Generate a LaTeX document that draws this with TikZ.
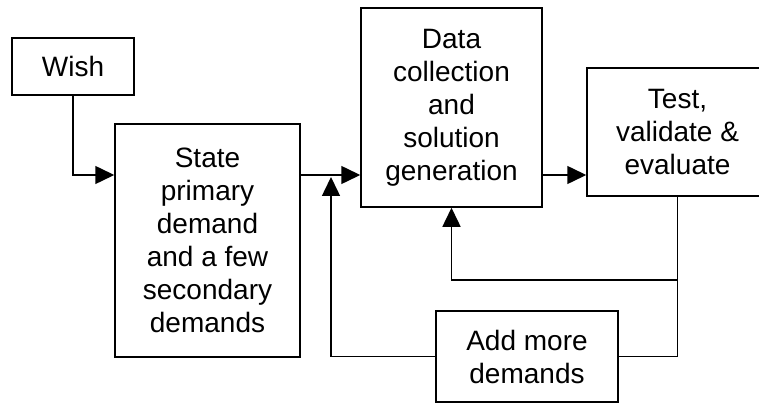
\documentclass[tikz,border=0pt]{standalone}
\usepackage{fontspec}
\setmainfont{Liberation Sans}
\usepackage{tikz}
\usetikzlibrary{arrows.meta,positioning}

\begin{document}
\begin{tikzpicture}[x=1pt,y=-1pt,line width=1.5pt,>={Triangle[length=19pt,width=18pt]},
                    main node/.style={rectangle,draw,align=center,inner sep=0pt,
                    font=\fontsize{28}{33}\selectfont}]

  \clip (0,0) rectangle (759,403);

  \node[main node,minimum width=122pt,minimum height=57pt] (wish) at (73,66.5) {Wish};
  \node[main node,minimum width=185pt,minimum height=233pt] (state) at (207.5,240.5)
       {State\\primary\\demand\\and a few\\secondary\\demands};
  \node[main node,minimum width=181pt,minimum height=199pt] (data) at (451.5,107.5)
       {Data\\collection\\and\\solution\\generation};
  \node[main node,minimum width=181pt,minimum height=128pt] (test) at (677.5,132)
       {Test,\\validate \&\\evaluate};
  \node[main node,minimum width=182pt,minimum height=91pt] (add) at (527,356.5)
       {Add more\\demands};

  \coordinate (main) at (0,175);
  \coordinate (back) at (0,280);
  \coordinate (join) at (331,177);

\draw[->] (wish.south) |- (state.west |- main);
\draw[->] (state.east |- main) -- (data.west |- main);
\draw[->] (data.east |- main) -- (test.west |- main);
\draw (test.south) |- (add.east);
\draw[->] (test.south |- back) -| (data.south);
\draw[->] (add.west) -| (join);
\end{tikzpicture}
\end{document}
